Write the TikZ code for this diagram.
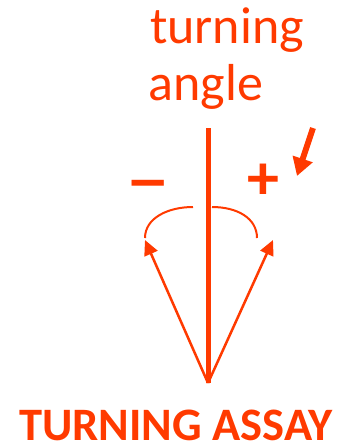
\documentclass[tikz,border=0pt]{standalone}
\usepackage{fontspec}
\setmainfont{Carlito}
\usetikzlibrary{arrows.meta}
\definecolor{orng}{RGB}{255,58,0}
\begin{document}
\begin{tikzpicture}[x=1pt,y=-1pt,
  lbl/.style={text=orng,inner sep=0pt,anchor=base},
  arr/.style={draw=orng,line width=2.5pt,-{Triangle[length=15pt,width=14pt]}},
  arcline/.style={draw=orng,line width=2pt}]
\useasboundingbox (0,0) rectangle (342,448);
\node[lbl,font=\fontsize{52}{60}\selectfont] (t1) at (227,43) {turning};
\node[lbl,font=\fontsize{52}{60}\selectfont] (t2) at (206,100) {angle};
\node[lbl,font=\bfseries\fontsize{64}{70}\selectfont] (minus) at (148,203) {\scalebox{1.3}[1]{−}};
\node[lbl,font=\bfseries\fontsize{64}{70}\selectfont] (plus) at (263,199) {+};
\node[lbl,font=\bfseries\fontsize{46.5}{50}\selectfont] (title) at (176,440) {TURNING ASSAY};
\coordinate (top) at (208,128);
\coordinate (O) at (208,383);
\coordinate (L) at (145,240);
\coordinate (R) at (273,240);
\coordinate (la) at (145,238);
\coordinate (lb) at (193,207);
\coordinate (ra) at (212,207);
\coordinate (rb) at (257,238);
\coordinate (s1) at (313,128);
\coordinate (s2) at (297,176);
\draw[orng,line width=5pt] (top) -- (O);
\draw[arr] (O) -- (L);
\draw[arr] (O) -- (R);
\draw[arcline] (la) .. controls (145,218) and (168,207) .. (lb);
\draw[arcline] (ra) .. controls (237,207) and (257,218) .. (rb);
\draw[draw=orng,line width=6pt,-{Triangle[length=18pt,width=20pt]}] (s1) -- (s2);
\end{tikzpicture}
\end{document}
